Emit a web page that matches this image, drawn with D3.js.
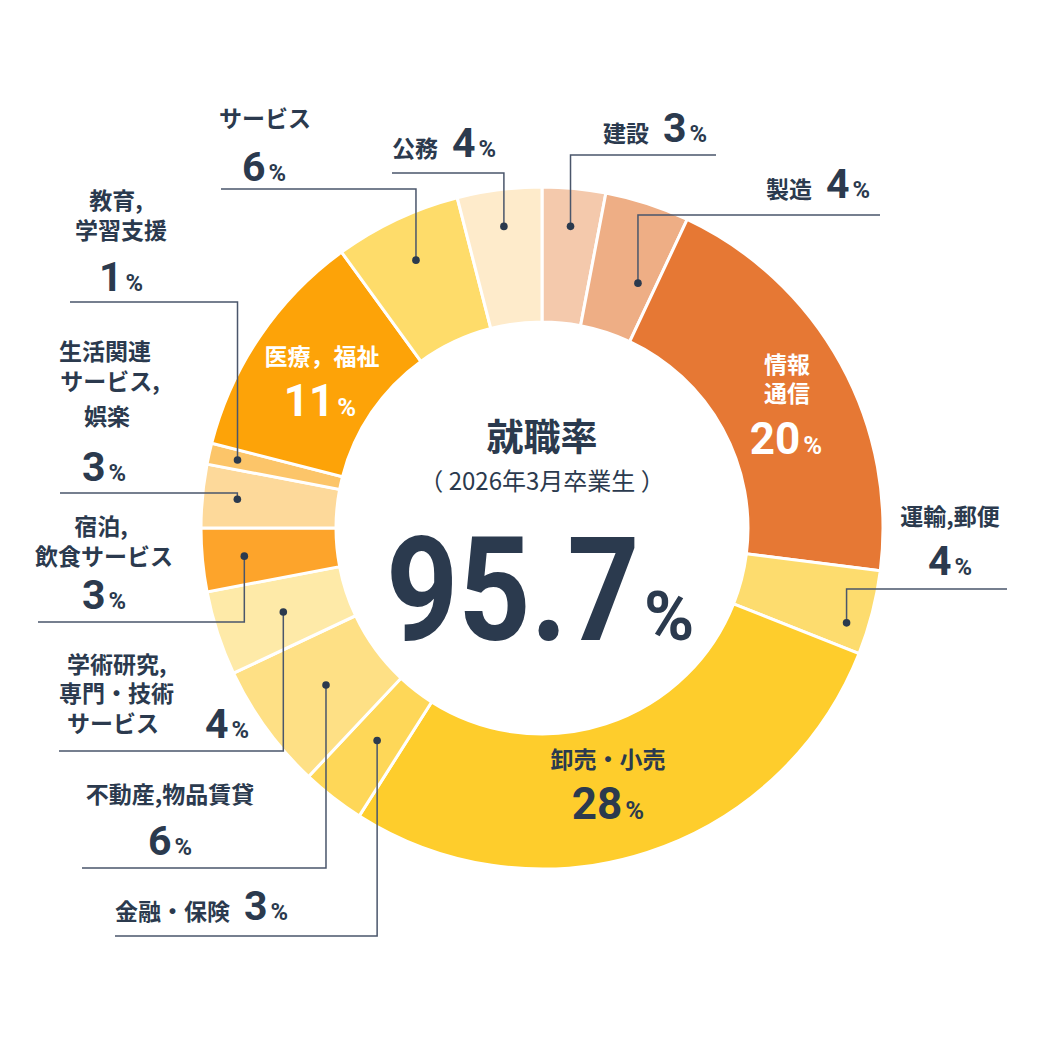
<!DOCTYPE html>
<html>
<head>
  <meta charset="utf-8">
  <script src="https://cdn.jsdelivr.net/npm/d3@7"></script>
  <style>
    body { margin: 0; background: #fff; }
    svg text { font-family: "Noto Sans CJK JP", "Noto Sans", sans-serif; fill: #2b3a4e; }
    .num { font-family: Roboto, "Noto Sans", sans-serif; font-weight: 700; }
  </style>
</head>
<body>
<div id="chart"></div>
<script>
// industry shares (%) clockwise from 12 o'clock
const categories = ['建設', '製造', '情報通信', '運輸,郵便', '卸売・小売', '金融・保険', '不動産,物品賃貸',
  '学術研究,専門・技術サービス', '宿泊,飲食サービス', '生活関連サービス,娯楽', '教育,学習支援', '医療，福祉', 'サービス', '公務'];
const shares = [3, 4, 20, 4, 28, 3, 6, 4, 3, 3, 1, 11, 6, 4];
const colors = ['#f4c9ac', '#eeae85', '#e67834', '#fddc6e', '#fecd2c', '#fed758', '#fee085',
  '#feeaa8', '#fda42b', '#fdd99a', '#fcc569', '#fda308', '#fedc6a', '#feebcb'];
const rateTitle = '就職率';
const rateSub = '（ 2026年3月卒業生 ）';
const rateValue = '95.7';

const W = 1042, H = 1042;
const cx = 542, cy = 528;
const outerR = 341, innerR = 206;
const ink = '#2b3a4e';

const svg = d3.select('#chart').append('svg')
  .attr('width', W).attr('height', H);

const g = svg.append('g').attr('transform', `translate(${cx},${cy})`);

const pie = d3.pie().sort(null).value(d => d)
  .startAngle(0).endAngle(2 * Math.PI);
const arcs = pie(shares);
const arc = d3.arc().innerRadius(innerR).outerRadius(outerR);

g.selectAll('path.slice')
  .data(arcs)
  .enter()
  .append('path')
  .attr('class', 'slice')
  .attr('d', arc)
  .attr('fill', (d, i) => colors[i])
  .attr('stroke', '#fff')
  .attr('stroke-width', 3);

// point on a slice's middle angle (plus a small nudge in degrees) at radius r
function midPoint(i, r, nudge) {
  const a = (arcs[i].startAngle + arcs[i].endAngle) / 2 + (nudge || 0) * Math.PI / 180;
  return [cx + r * Math.sin(a), cy - r * Math.cos(a)];
}

// one text element per label; each line is a positioned chunk of tspans
function writeLabel(lines, numSize, color) {
  const ns = numSize || 41;
  const t = svg.append('text');
  lines.forEach(line => {
    let first = true;
    const place = sp => {
      if (first) {
        sp.attr('x', line.x).attr('y', line.y).attr('text-anchor', line.a || 'middle');
        first = false;
      }
      return sp;
    };
    if (line.t) {
      place(t.append('tspan')).attr('font-size', 23).attr('font-weight', 700).text(line.t);
    }
    if (line.p != null) {
      const n = t.append('tspan');
      const wasFirst = first;
      place(n).attr('class', 'num').attr('font-size', ns).text(line.p);
      if (!wasFirst) n.attr('dx', 14);
      t.append('tspan').attr('class', 'num').attr('font-size', ns * 0.58)
        .attr('dx', 3).text('%');
    }
  });
  if (color) t.selectAll('tspan').style('fill', color);
  return t;
}

// leader-line callouts (outside labels)
const callouts = [
  { i: 0, r: 303, lineY: 155, lineTo: 716, lines: [{ t: '建設', p: shares[0], x: 603, y: 142, a: 'start' }] },
  { i: 1, r: 263, nudge: 3.4, lineY: 215, lineTo: 880, lines: [{ t: '製造', p: shares[1], x: 766, y: 198, a: 'start' }] },
  { i: 3, r: 319, nudge: 2.9, lineY: 589, lineTo: 1007, lines: [{ t: '運輸,郵便', x: 950, y: 525 }, { p: shares[3], x: 950, y: 575 }] },
  { i: 5, r: 269, lineY: 936, lineTo: 115, lines: [{ t: '金融・保険', p: shares[5], x: 115, y: 920, a: 'start' }] },
  { i: 6, r: 267, lineY: 868, lineTo: 82, lines: [{ t: '不動産,物品賃貸', x: 170, y: 803 }, { p: shares[6], x: 170, y: 855 }] },
  { i: 7, r: 272, lineY: 751, lineTo: 59, lines: [{ t: '学術研究,', x: 67, y: 673, a: 'start' }, { t: '専門・技術', x: 59, y: 702, a: 'start' },
    { t: 'サービス', x: 67, y: 732, a: 'start' }, { p: shares[7], x: 205, y: 738, a: 'start' }] },
  { i: 8, r: 299, lineY: 622, lineTo: 38, lines: [{ t: '宿泊,', x: 101, y: 535 }, { t: '飲食サービス', x: 104, y: 565 }, { p: shares[8], x: 104, y: 609 }] },
  { i: 9, r: 306, lineY: 493, lineTo: 60, lines: [{ t: '生活関連', x: 105, y: 360 }, { t: 'サービス,', x: 110, y: 390 }, { t: '娯楽', x: 107, y: 425 }, { p: shares[9], x: 104, y: 481 }] },
  { i: 10, r: 312, lineY: 302, lineTo: 70, lines: [{ t: '教育,', x: 116, y: 209 }, { t: '学習支援', x: 121, y: 239 }, { p: shares[10], x: 121, y: 291 }] },
  { i: 12, r: 296, lineY: 189, lineTo: 221, lines: [{ t: 'サービス', x: 265, y: 127 }, { p: shares[12], x: 264, y: 181 }] },
  { i: 13, r: 304, lineY: 173, lineTo: 392, lines: [{ t: '公務', p: shares[13], x: 392, y: 157, a: 'start' }] }
];

const leaders = svg.append('g').attr('class', 'leaders');
callouts.forEach(c => {
  const [dx, dy] = midPoint(c.i, c.r, c.nudge);
  leaders.append('path')
    .attr('d', d3.line()([[c.lineTo, c.lineY], [dx, c.lineY], [dx, dy]]))
    .attr('fill', 'none')
    .attr('stroke', '#4a566b')
    .attr('stroke-width', 1.5);
  leaders.append('circle')
    .attr('cx', dx).attr('cy', dy).attr('r', 3.8)
    .attr('fill', ink);
  writeLabel(c.lines);
});

// labels drawn inside their slices
const inside = [
  { lines: [{ t: '情報', x: 787, y: 373 }, { t: '通信', x: 787, y: 402 }, { p: shares[2], x: 786, y: 454 }], color: '#fff' },
  { lines: [{ t: '卸売・小売', x: 608, y: 768 }, { p: shares[4], x: 608, y: 819 }], color: ink },
  { lines: [{ t: '医療，福祉', x: 322, y: 365 }, { p: shares[11], x: 320, y: 416 }], color: '#fff' }
];
inside.forEach(s => writeLabel(s.lines, 44, s.color));

// centre: employment rate
svg.append('text')
  .attr('x', cx).attr('y', 451)
  .attr('text-anchor', 'middle')
  .attr('font-size', 37).attr('font-weight', 700)
  .text(rateTitle);

svg.append('text')
  .attr('x', cx).attr('y', 490)
  .attr('text-anchor', 'middle')
  .attr('font-size', 24).attr('font-weight', 400)
  .text(rateSub);

// big figure, narrowed horizontally to the reference's condensed digits
svg.append('text')
  .attr('class', 'num')
  .attr('transform', 'translate(386,640) scale(0.87,1)')
  .attr('font-size', 145)
  .text(rateValue);

svg.append('text')
  .attr('class', 'num')
  .attr('x', 644).attr('y', 640)
  .attr('font-size', 68)
  .text('%');
</script>
</body>
</html>
